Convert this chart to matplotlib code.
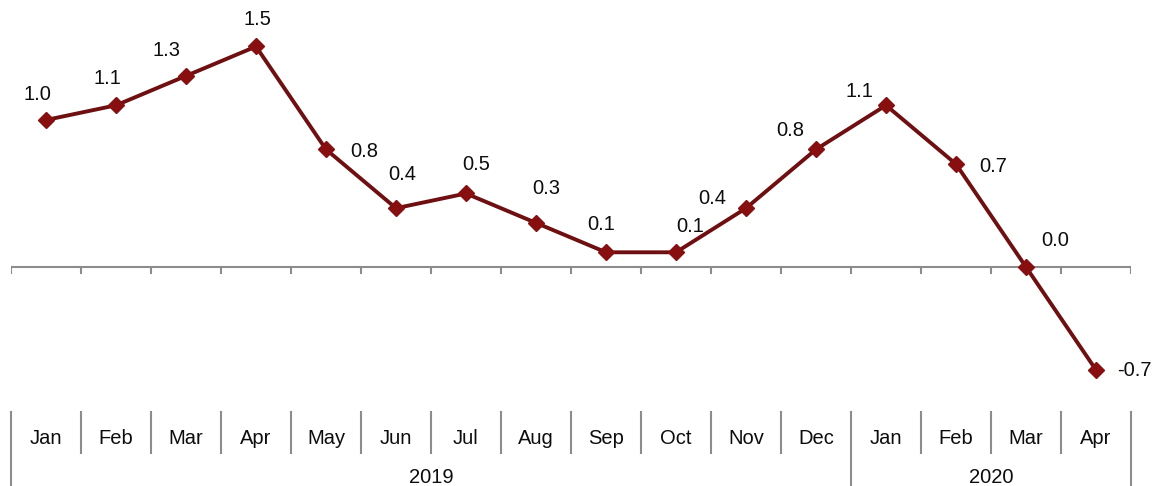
import numpy as np
import matplotlib.pyplot as plt
from matplotlib import transforms

# Data
months = ["Jan", "Feb", "Mar", "Apr", "May", "Jun", "Jul", "Aug",
          "Sep", "Oct", "Nov", "Dec", "Jan", "Feb", "Mar", "Apr"]
years = ["2019", "2020"]
year_counts = [12, 4]
values = [1.0, 1.1, 1.3, 1.5, 0.8, 0.4, 0.5, 0.3,
          0.1, 0.1, 0.4, 0.8, 1.1, 0.7, 0.0, -0.7]

# label offsets in pixels (dx, dy), styling only
label_offsets = [(-9, 25), (-9, 27), (-20, 25), (1, 27), (38, -2), (6, 34),
                 (10, 29), (10, 34), (-5, 28), (14, 26), (-34, 10), (-26, 19),
                 (-27, 14), (37, -2), (29, 26), (38, -1)]

W, H = 1156, 486
LINE_COLOR = "#6e1012"
MARKER_COLOR = "#880f10"
GREY = "#8c8c8c"
TXT = "#0d0d0d"

plt.rcParams['font.family'] = ['Liberation Sans', 'DejaVu Sans']

fig = plt.figure(figsize=(W / 100, H / 100), dpi=100)
ax = fig.add_axes([11 / W, 0, 1120 / W, 1])
n = len(values)
x = np.arange(n)
ax.set_xlim(-0.5, n - 0.5)
ax.set_ylim(-(H - 267) / 147, 267 / 147)
ax.axis("off")

# zero axis line with small downward ticks
ax.axhline(0, color=GREY, lw=1.5, zorder=1)
tick_len = 6 / 147
for b in np.arange(n + 1) - 0.5:
    ax.plot([b, b], [0, -tick_len], color=GREY, lw=1.5, zorder=1)

ax.plot(x, values, color=LINE_COLOR, lw=2.8, marker="D", markersize=8.5,
        markerfacecolor=MARKER_COLOR, markeredgecolor=MARKER_COLOR, zorder=3)

for i, v in enumerate(values):
    dx, dy = label_offsets[i]
    ax.annotate(f"{v:.1f}", (x[i], v), xytext=(dx * 0.72, dy * 0.72),
                textcoords="offset points", ha="center", va="center",
                fontsize=14.5, color=TXT)

# category axis boxes below
trans = transforms.blended_transform_factory(ax.transData, ax.transAxes)
y_top = (H - 412) / H
y_mid = (H - 453) / H
for i, m in enumerate(months):
    ax.text(x[i], (H - 438) / H, m, transform=trans, ha="center",
            va="center", fontsize=14.5, color=TXT)

year_bounds = np.cumsum([0] + year_counts) - 0.5
for b in np.arange(n + 1) - 0.5:
    bottom = 0 if b in year_bounds else y_mid
    ax.plot([b, b], [bottom, y_top], transform=trans, color=GREY, lw=1.5,
            clip_on=False)

for j, yr in enumerate(years):
    xc = (year_bounds[j] + year_bounds[j + 1]) / 2
    ax.text(xc, (H - 477) / H, yr, transform=trans, ha="center",
            va="center", fontsize=14.5, color=TXT)

fig.savefig("out.png", dpi=100)
